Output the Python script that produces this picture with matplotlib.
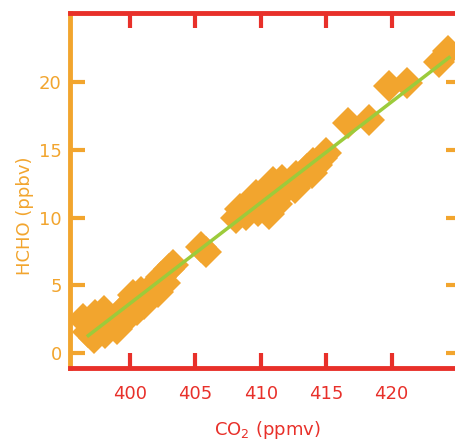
import matplotlib
matplotlib.use("Agg")
import matplotlib.pyplot as plt

# CO2 (ppmv) vs HCHO (ppbv)
co2 = [396.4, 396.8, 397.2, 397.3, 397.7, 398.1, 398.4, 398.8, 399.2, 399.5,
       399.9, 400.2, 400.5, 400.8, 401.1, 401.5, 401.8, 402.1, 402.4, 402.7,
       403.0, 403.3, 398.0, 399.0,
       405.4, 405.8,
       408.1, 408.4, 408.9, 409.3, 409.8, 410.2, 410.6, 410.9, 411.2, 411.6,
       411.9, 412.3, 412.7, 413.1, 413.5, 413.9, 414.3, 414.7, 415.0,
       409.6, 410.9, 412.6, 414.0,
       416.7, 418.3, 419.8, 421.2, 423.6, 424.3]
hcho = [2.5, 1.6, 1.1, 2.8, 2.0, 1.5, 2.6, 2.1, 3.0, 2.4,
        3.6, 4.3, 3.2, 4.5, 3.6, 4.2, 5.0, 4.5, 5.6, 5.2,
        6.2, 6.5, 3.1, 1.8,
        7.8, 7.5,
        10.0, 10.6, 10.2, 11.1, 10.5, 11.6, 10.3, 12.0, 11.0, 12.8,
        12.1, 12.6, 13.1, 12.8, 13.6, 13.3, 13.9, 14.4, 14.8,
        11.7, 12.6, 12.2, 14.0,
        17.0, 17.2, 19.7, 19.9, 21.5, 22.3]

# fit line end points
fit_x = [396.8, 424.4]
fit_y = [1.3, 21.8]

xticks = [400, 405, 410, 415, 420]
yticks = [0, 5, 10, 15, 20]

orange = "#F2A52E"
red = "#E8302A"
green = "#9CCB3B"

fig = plt.figure(figsize=(4.56, 4.43), dpi=100)
ax = fig.add_axes([0.1535, 0.169, 0.857, 0.802])

ax.plot(co2, hcho, linestyle="none", marker="D", markersize=16,
        color=orange, markeredgewidth=0)
ax.plot(fit_x, fit_y, color=green, linewidth=2.5)

ax.set_xlim(395.4, 425.3)
ax.set_ylim(-1.1, 25.1)
ax.set_xticks(xticks)
ax.set_yticks(yticks)

for side in ["top", "bottom"]:
    ax.spines[side].set_color(red)
    ax.spines[side].set_linewidth(3.5)
for side in ["left", "right"]:
    ax.spines[side].set_color(orange)
    ax.spines[side].set_linewidth(3.5)

ax.tick_params(axis="x", direction="in", length=11, width=3, color=red,
               labelcolor=red, labelsize=13, pad=12, top=True)
ax.tick_params(axis="y", direction="in", length=11, width=3, color=orange,
               labelcolor=orange, labelsize=13, pad=6, right=True)

ax.set_xlabel("CO$_2$ (ppmv)", color=red, fontsize=13, va="center")
ax.xaxis.set_label_coords(0.506, -0.175)
ax.set_ylabel("HCHO (ppbv)", color=orange, fontsize=13, va="center")
ax.yaxis.set_label_coords(-0.115, 0.43)

fig.savefig("out.png", dpi=100)
